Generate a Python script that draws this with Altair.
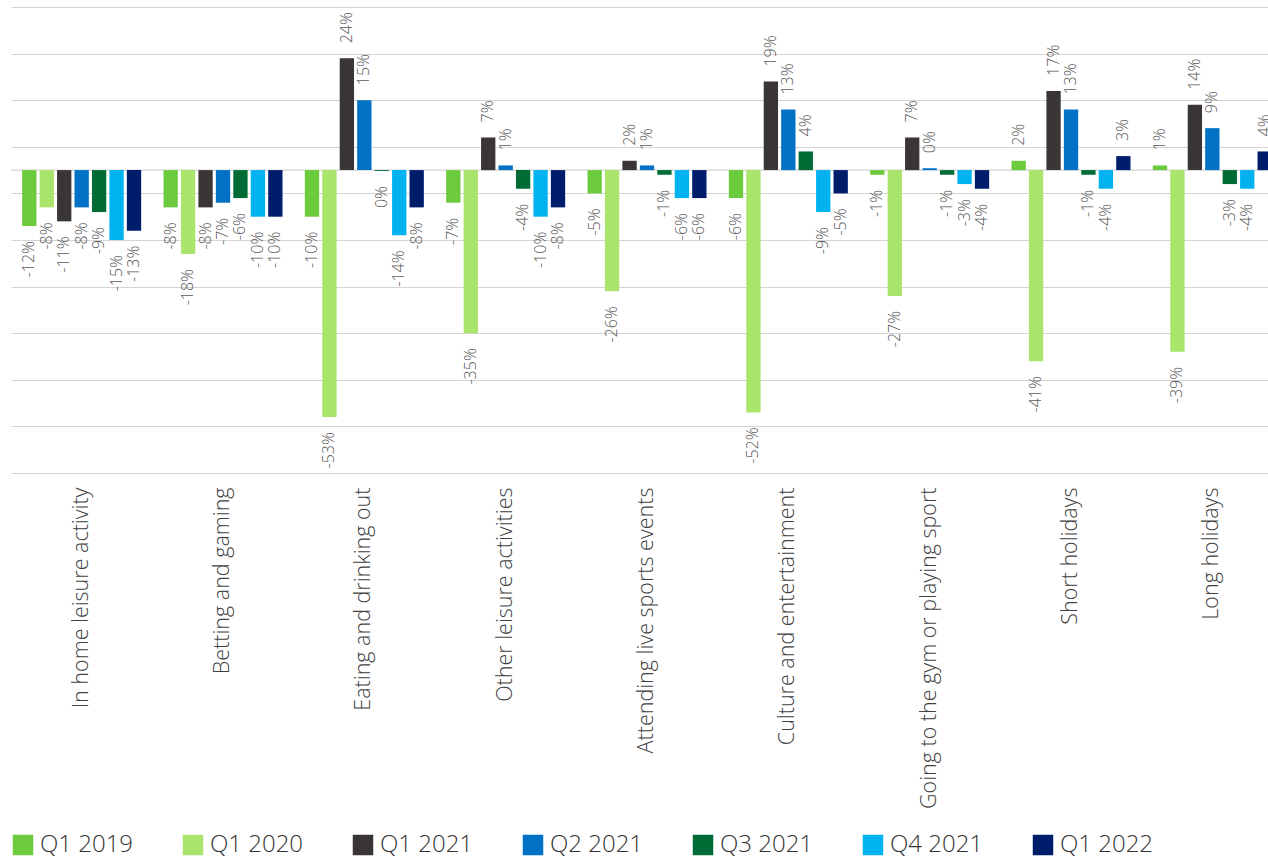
import altair as alt
import pandas as pd

# Leisure categories along the x axis
categories = [
    "In home leisure activity",
    "Betting and gaming",
    "Eating and drinking out",
    "Other leisure activities",
    "Attending live sports events",
    "Culture and entertainment",
    "Going to the gym or playing sport",
    "Short holidays",
    "Long holidays",
]

# Survey waves (series)
series = ["Q1 2019", "Q1 2020", "Q1 2021", "Q2 2021", "Q3 2021", "Q4 2021", "Q1 2022"]
colors = ["#6BCB3C", "#A9E46B", "#3A3635", "#0071C5", "#006B35", "#00B3F0", "#001D6C"]

# Net change in spending, % (one list per wave, in category order)
q1_2019 = [-12, -8, -10, -7, -5, -6, -1, 2, 1]
q1_2020 = [-8, -18, -53, -35, -26, -52, -27, -41, -39]
q1_2021 = [-11, -8, 24, 7, 2, 19, 7, 17, 14]
q2_2021 = [-8, -7, 15, 1, 1, 13, 0.4, 13, 9]
q3_2021 = [-9, -6, -0.2, -4, -1, 4, -1, -1, -3]
q4_2021 = [-15, -10, -14, -10, -6, -9, -3, -4, -4]
q1_2022 = [-13, -10, -8, -8, -6, -5, -4, 3, 4]

values = [q1_2019, q1_2020, q1_2021, q2_2021, q3_2021, q4_2021, q1_2022]

rows = []
for s, vals in zip(series, values):
    for c, v in zip(categories, vals):
        rows.append({"category": c, "series": s, "value": v})
df = pd.DataFrame(rows)

PLOT_W = 1257
PLOT_H = 466
BAND_RANGE = 1272  # nine full groups; the last one runs past the right edge

x_enc = alt.X(
    "category:N",
    sort=categories,
    scale=alt.Scale(range=[0, BAND_RANGE], paddingInner=0, paddingOuter=0),
    axis=alt.Axis(
        title=None,
        labelAngle=-90,
        labelFontSize=21.5,
        labelFont="Open Sans",
        labelFontWeight=300,
        labelColor="#404040",
        labelPadding=14,
        labelLimit=500,
        ticks=False,
        domain=False,
        grid=False,
    ),
)
xoff_enc = alt.XOffset(
    "series:N",
    sort=series,
    scale=alt.Scale(domain=series, paddingInner=0.18, paddingOuter=0.64),
)
y_enc = alt.Y(
    "value:Q",
    scale=alt.Scale(domain=[-65, 35], nice=False, zero=False),
    axis=alt.Axis(
        title=None,
        values=list(range(-65, 36, 10)),
        labels=False,
        ticks=False,
        domain=False,
        grid=True,
        gridColor="#D4D4D4",
        gridWidth=1.2,
    ),
)

base = alt.Chart(df).transform_calculate(
    label="round(datum.value) + '%'"
)

zero_line = alt.Chart(pd.DataFrame({"z": [0]})).mark_rule(
    color="#D4D4D4", strokeWidth=1.2
).encode(y=alt.Y("z:Q"))

bars = base.mark_bar(clip=True).encode(
    x=x_enc,
    xOffset=xoff_enc,
    y=y_enc,
    color=alt.Color(
        "series:N",
        sort=series,
        scale=alt.Scale(domain=series, range=colors),
        legend=alt.Legend(
            title=None,
            orient="none",
            legendX=0,
            legendY=826,
            direction="horizontal",
            columns=7,
            symbolType="square",
            symbolSize=420,
            symbolStrokeWidth=0,
            symbolOpacity=1,
            labelFont="Open Sans",
            labelFontWeight=300,
            labelFontSize=24,
            labelColor="#333333",
            labelOffset=5,
            columnPadding=47,
            labelLimit=300,
        ),
    ),
)

label_style = dict(
    angle=270,
    baseline="middle",
    fontSize=16,
    font="Open Sans",
    fontWeight=300,
    color="#595959",
    clip=True,
)

pos_labels = base.transform_filter("datum.value >= 0").mark_text(
    align="left", dx=15, **label_style
).encode(x=x_enc, xOffset=xoff_enc, y=y_enc, text="label:N")

neg_labels = base.transform_filter("datum.value < 0").mark_text(
    align="right", dx=-15, **label_style
).encode(x=x_enc, xOffset=xoff_enc, y=y_enc, text="label:N")

chart = (
    alt.layer(zero_line, bars, pos_labels, neg_labels)
    .properties(
        width=PLOT_W,
        height=PLOT_H,
        autosize=alt.AutoSizeParams(type="none"),
        padding={"left": 11, "top": 7, "right": 0, "bottom": 386},
        background="white",
    )
    .configure_view(stroke=None)
)

chart.save("out.html", embed_options={"renderer": "svg", "actions": False})
